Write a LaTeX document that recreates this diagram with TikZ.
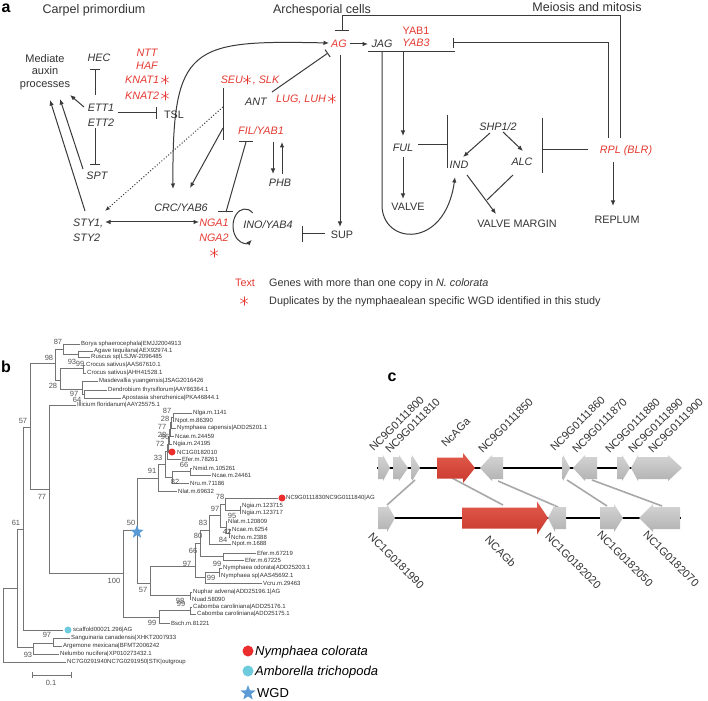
\documentclass[tikz,border=0pt]{standalone}
\usepackage{fontspec}
\setmainfont{Liberation Sans}
\usetikzlibrary{arrows.meta,shapes.geometric}
\definecolor{rd}{HTML}{E53A32}
\definecolor{tx}{HTML}{333333}
\definecolor{ln}{HTML}{3A3A3A}
\definecolor{tr}{HTML}{747474}
\definecolor{bt}{HTML}{555555}
\definecolor{dotred}{HTML}{EB2D2D}
\definecolor{dotcyan}{HTML}{6CCCDD}
\definecolor{starblue}{HTML}{5B9BD5}
\definecolor{gtop}{HTML}{D4D4D4}
\definecolor{gbot}{HTML}{B2B2B2}
\definecolor{rtop}{HTML}{E25A4C}
\definecolor{rbot}{HTML}{C8392D}
\definecolor{syn}{HTML}{A8A8A8}
\newcommand\dstar{\tikz[baseline=-4pt,x=1pt,y=1pt]{\foreach \a in {30,90,...,330}{\draw[line width=0.55pt,draw=rd,line cap=round] (0,0)--(\a:4.3);}}}
\newcommand\Thb[3]{\draw[tree] (#1,#3) -- (#2,#3);}
\newcommand\Tvb[3]{\draw[tree] (#1,#2) -- (#1,#3);}
\newcommand\Ttl[3]{\node[tip] at (#1,#2) {#3};}
\newcommand\Tbs[3]{\node[boot] at (#1,#2) {#3};}
\newcommand\gR[7]{\path[#7] (#1,#4-#5) -- (#2,#4-#5) -- (#2,#4-#6) -- (#3,#4) -- (#2,#4+#6) -- (#2,#4+#5) -- (#1,#4+#5) -- cycle;}
\newcommand\gL[7]{\path[#7] (#1,#4) -- (#2,#4-#6) -- (#2,#4-#5) -- (#3,#4-#5) -- (#3,#4+#5) -- (#2,#4+#5) -- (#2,#4+#6) -- cycle;}
\begin{document}
\begin{tikzpicture}[x=1pt,y=-1pt,
  g/.style={font=\fontsize{10.8}{12}\selectfont\itshape, text=tx, inner sep=0pt, text height=7.8pt, text depth=0pt},
  rg/.style={g, text=rd},
  pl/.style={font=\fontsize{10.8}{12}\selectfont, text=tx, inner sep=0pt, text height=7.8pt, text depth=0pt},
  hd/.style={font=\fontsize{12.5}{14}\selectfont, text=tx, inner sep=0pt, text height=9pt, text depth=0pt},
  plab/.style={font=\fontsize{16}{16}\selectfont\bfseries, text=black, inner sep=0pt},
  lk/.style={draw=ln, line width=1pt},
  ar/.style={lk, -{Latex[length=5.5pt,width=4.5pt]}},
  dar/.style={lk, {Latex[length=5.5pt,width=4.5pt]}-{Latex[length=5.5pt,width=4.5pt]}},
  inh/.style={lk, -{Bar[width=10pt]}},
  tree/.style={draw=tr, line width=0.8pt, line cap=rect},
  tip/.style={font=\fontsize{6}{7}\selectfont, text=tx, anchor=west, inner sep=0pt},
  boot/.style={font=\fontsize{7.5}{8}\selectfont, text=bt, inner sep=0pt},
  lgd/.style={font=\fontsize{13}{14}\selectfont\itshape, text=black, anchor=west, inner sep=0pt, text height=9.3pt, text depth=0pt},
  gl/.style={font=\fontsize{11}{12}\selectfont, text=tx, inner sep=0pt},
  gray gene/.style={top color=gtop, bottom color=gbot},
  red gene/.style={top color=rtop, bottom color=rbot},
  synline/.style={draw=syn, line width=1.6pt}
]
\useasboundingbox (0,0) rectangle (708,700);
\fill[white] (0,0) rectangle (708,700);

%% ================= panel a =================
\node[plab] (pa) at (6,8) {a};
\node[hd] (carp) at (94,9) {Carpel primordium};
\node[hd] (arch) at (322,9) {Archesporial cells};
\node[hd] (meio) at (587,7) {Meiosis and mitosis};
\node[font=\fontsize{11}{12.5}\selectfont, text=tx, align=center, inner sep=0pt] (med) at (45,72) {Mediate\\auxin\\processes};
\node[g] (hec) at (99,58) {HEC};
\node[g] (ett1) at (101,108) {ETT1};
\node[g] (ett2) at (101,123) {ETT2};
\node[pl] (tsl) at (174,115) {TSL};
\node[g] (spt) at (97,176) {SPT};
\node[rg] (ntt) at (147,53) {NTT};
\node[rg] (haf) at (147,66) {HAF};
\node[rg] (knat1) at (147,80) {KNAT1\,\dstar};
\node[rg] (knat2) at (147,96) {KNAT2\,\dstar};
\node[rg] (seu) at (250,80) {SEU\dstar\,, SLK};
\node[g] (ant) at (256,102) {ANT};
\node[rg] (lug) at (306,99) {LUG, LUH\,\dstar};
\node[rg] (fil) at (261,131) {FIL/YAB1};
\node[g] (phb) at (280,183) {PHB};
\node[rg] (ag) at (339,44) {AG};
\node[g] (jag) at (382,44) {JAG};
\node[pl, text=rd] (yab1) at (416,31) {YAB1};
\node[rg] (yab3) at (416,43) {YAB3};
\node[g] (ful) at (403,148) {FUL};
\node[g] (shp) at (498,127) {SHP1/2};
\node[g] (ind) at (459,165) {IND};
\node[g] (alc) at (522,162) {ALC};
\node[rg] (rpl) at (626,150) {RPL (BLR)};
\node[pl] (valve) at (408,207) {VALVE};
\node[pl] (vm) at (517,224) {VALVE MARGIN};
\node[pl] (replum) at (617,220) {REPLUM};
\node[g] (crc) at (181,208) {CRC/YAB6};
\node[g, anchor=west] (sty1) at (73,223) {STY1,};
\node[g, anchor=west] (sty2) at (73,238) {STY2};
\node[rg] (nga1) at (214,223) {NGA1};
\node[rg] (nga2) at (214,238) {NGA2};
\node[inner sep=0pt] (ngastar) at (214,253) {\dstar};
\node[g] (ino) at (268,225) {INO/YAB4};
\node[pl] (sup) at (342,235) {SUP};
\node[pl, text=rd] (lgt) at (245,283) {Text};
\node[pl, anchor=west] (lg1) at (269,283) {Genes with more than one copy in \textit{N. colorata}};
\node[inner sep=0pt] (lgs) at (244,301) {\dstar};
\node[pl, anchor=west] (lg2) at (269,301) {Duplicates by the nymphaealean specific WGD identified in this study};

% connectors panel a
\draw[lk, -{Bar[width=14pt]}] (620,138) -- (620,16) -- (342,16) -- (342,31);
\draw[inh] (608,138) -- (608,43) -- (453,43);
\draw[lk] (368,52) -- (455,52);
\draw[ar] (350,44) -- (368,44);
\draw[ar] (382,52) -- (382,205) .. controls (382,245) and (445,250) .. (455,177);
\draw[ar] (403,52) -- (403,136);
\draw[ar] (403,157) -- (403,199);
\draw[lk] (418,145) -- (447,145);
\draw[lk] (447,115) -- (447,168);
\draw[ar] (490,133) -- (463,157);
\draw[ar] (503,132) -- (523,151);
\draw[lk] (588,150) -- (542,150);
\draw[lk] (542,118) -- (542,173);
\draw[ar] (467,175) -- (496,214);
\draw[lk] (513,175) -- (487,200);
\draw[ar] (613,162) -- (613,206);
\draw[ar] (340,55) -- (340,227);
\draw[dar] (173,189) .. controls (172,45) and (190,40) .. (329,43);
\draw[lk, -{Bar[width=9pt]}] (272,92) -- (328,53);
\draw[lk] (223,88) -- (223,140);
\draw[ar] (223,128) -- (190,188);
\draw[lk, dotted, -{Latex[length=5pt,width=4pt]}] (223,107) -- (105,211);
\draw[lk] (246,142) -- (226,212);
\draw[lk] (239,142) -- (253,142);
\draw[lk] (218,212) -- (233,212);
\draw[ar] (273,142) -- (273,174);
\draw[ar] (282,174) -- (282,142);
\draw[ar] (85,211) -- (50,100);
\draw[ar] (83,169) -- (60,99);
\draw[ar] (84,107) -- (70,95);
\draw[inh] (95,95) -- (95,69);
\draw[inh] (95,128) -- (95,165);
\draw[lk, -{Bar[width=12pt]}] (118,113) -- (157,113);
\draw[dar] (105,222) -- (199,222);
\draw[ar] (245,226) ++(-50:12 and 17) arc[start angle=-50, end angle=-305, x radius=12, y radius=17];
\draw[lk, -{Bar[width=16pt]}] (325,234) -- (302,234);

%% ================= panel b =================
\node[plab] (pb) at (6,367) {b};
% monocots
\Tvb{55}{349}{380} \Thb{30}{55}{363}
\Tvb{63}{344}{354} \Thb{55}{63}{349}
\Thb{63}{80}{344} \Ttl{81}{344}{Borya sphaerocephala|EMJJ2004913}
\Tvb{78}{351}{357} \Thb{63}{78}{354}
\Thb{78}{93}{351} \Ttl{94}{351}{Agave tequilana|AEX92974.1}
\Thb{78}{90}{357} \Ttl{91}{357}{Ruscus sp|LSJW-2096485}
\Tvb{60}{368}{389} \Thb{55}{60}{380}
\Tvb{83}{365}{373} \Thb{60}{83}{368}
\Thb{83}{85}{365} \Ttl{86}{365}{Crocus sativus|AAS67610.1}
\Thb{83}{86}{373} \Ttl{87}{373}{Crocus sativus|AHH41528.1}
\Tvb{82}{381}{394} \Thb{60}{82}{389}
\Thb{82}{98}{381} \Ttl{99}{381}{Masdevallia yuangensis|JSAG2016426}
\Tvb{84}{390}{398} \Thb{82}{84}{394}
\Thb{84}{107}{390} \Ttl{108}{390}{Dendrobium thyrsiflorum|AAY86364.1}
\Thb{84}{121}{398} \Ttl{122}{398}{Apostasia shenzhenica|PKA46844.1}
% backbone
\Tvb{30}{363}{489} \Thb{23}{30}{427}
\Tvb{49}{405}{573} \Thb{30}{49}{489}
\Thb{49}{76}{405} \Ttl{77}{405}{Illicium floridanum|AAY25575.1}
\Tvb{123}{530}{617} \Thb{49}{123}{573}
\Tvb{137}{478}{583} \Thb{123}{137}{530}
% clade 91
\Tvb{158}{464}{491} \Thb{137}{158}{478}
\Thb{158}{177}{491} \Ttl{178}{491}{Nlat.m.69632}
\Tvb{165}{451}{477} \Thb{158}{165}{464}
\Tvb{172}{471}{483} \Thb{165}{172}{477}
\Thb{172}{189}{483} \Ttl{190}{483}{Nru.m.71186}
\Tvb{190}{468}{475} \Thb{172}{190}{471}
\Thb{190}{192}{468} \Ttl{193}{468}{Nmid.m.105261}
\Thb{190}{211}{475} \Ttl{212}{475}{Ncae.m.24461}
\Tvb{167}{444}{459} \Thb{165}{167}{451}
\Thb{167}{181}{459} \Ttl{182}{459}{Efer.m.78261}
\Tvb{168}{436}{452} \Thb{167}{168}{444}
\Thb{168}{169}{452} \fill[dotred] (172,452) circle (3.5); \Ttl{177}{452}{NC1G0182010}
\Tvb{169}{429}{444} \Thb{168}{169}{436}
\Thb{169}{172}{444} \Ttl{173}{444}{Ngia.m.24195}
\Tvb{170}{422}{436} \Thb{169}{170}{429}
\Thb{170}{174}{436} \Ttl{175}{436}{Ncae.m.24459}
\Tvb{171}{417}{428} \Thb{170}{171}{422}
\Thb{171}{176}{428} \Ttl{177}{428}{Nymphaea capensis|ADD25201.1}
\Tvb{173}{413}{421} \Thb{171}{173}{417}
\Thb{173}{192}{413} \Ttl{193}{413}{Nlga.m.1141}
\Thb{173}{174}{421} \Ttl{175}{421}{Npot.m.86390}
% clade 57
\Tvb{150}{566}{595} \Thb{137}{150}{583}
\Tvb{190}{592}{599} \Thb{150}{190}{595}
\Thb{190}{192}{592} \Ttl{193}{592}{Nuphar advena|ADD25196.1|AG}
\Thb{190}{191}{599} \Ttl{192}{599}{Nuad.58090}
\Tvb{195}{543}{577} \Thb{150}{195}{566}
\Tvb{200}{530}{556} \Thb{195}{200}{543}
\Tvb{209}{515}{544} \Thb{200}{209}{530}
\Thb{209}{231}{544} \Ttl{232}{544}{Npot.m.1688}
\Tvb{220}{504}{527} \Thb{209}{220}{515}
\Tvb{225}{498}{510} \Thb{220}{225}{504}
\Thb{225}{278}{498} \fill[dotred] (282,498) circle (3.5); \Ttl{286}{498}{NC9G0111830NC9G0111840|AG}
\Tvb{240}{506}{513} \Thb{225}{240}{510}
\Thb{240}{241}{506} \Ttl{242}{506}{Ngia.m.123715}
\Thb{240}{241}{513} \Ttl{242}{513}{Ngia.m.123717}
\Tvb{226}{521}{533} \Thb{220}{226}{527}
\Thb{226}{227}{521} \Ttl{228}{521}{Nlat.m.120809}
\Tvb{229}{529}{537} \Thb{226}{229}{533}
\Thb{229}{231}{529} \Ttl{232}{529}{Ncae.m.6254}
\Thb{229}{230}{537} \Ttl{231}{537}{Ncho.m.2388}
\Tvb{223}{553}{560} \Thb{200}{223}{556}
\Thb{223}{256}{553} \Ttl{257}{553}{Efer.m.67219}
\Thb{223}{244}{560} \Ttl{245}{560}{Efer.m.67225}
\Tvb{205}{572}{583} \Thb{195}{205}{577}
\Tvb{219}{568}{576} \Thb{205}{219}{572}
\Thb{219}{222}{568} \Ttl{223}{568}{Nymphaea odorata|ADD25203.1}
\Thb{219}{220}{576} \Ttl{221}{576}{Nymphaea sp|AAS45692.1}
\Thb{205}{262}{583} \Ttl{263}{583}{Vcru.m.29463}
% Cabomba
\Tvb{159}{610}{623} \Thb{123}{159}{617}
\Tvb{190}{607}{614} \Thb{159}{190}{610}
\Thb{190}{192}{607} \Ttl{193}{607}{Cabomba caroliniana|ADD25176.1}
\Thb{190}{196}{614} \Ttl{197}{614}{Cabomba caroliniana|ADD25175.1}
\Thb{159}{170}{623} \Ttl{171}{623}{Bsch.m.81221}
% basal
\Tvb{23}{427}{630} \Thb{17}{23}{529}
\Thb{23}{63}{630} \fill[dotcyan] (68,630) circle (3.5); \Ttl{73}{630}{scaffold00021.296|AG}
\Tvb{17}{529}{647} \Thb{3}{17}{588}
\Tvb{33}{643}{654} \Thb{17}{33}{647}
\Tvb{53}{638}{646} \Thb{33}{53}{643}
\Thb{53}{70}{638} \Ttl{71}{638}{Sanguinaria canadensis|XHKT2007933}
\Thb{53}{62}{646} \Ttl{63}{646}{Argemone mexicana|BFMT2006242}
\Thb{33}{59}{654} \Ttl{60}{654}{Nelumbo nucifera|XP010273432.1}
\Tvb{3}{588}{662}
\Thb{3}{66}{662} \Ttl{67}{662}{NC7G0291940NC7G0291950|STK|outgroup}
% WGD star
\node[star, star points=5, star point ratio=2.4, fill=starblue, minimum size=14pt, inner sep=0pt] (wgd) at (137,532) {};
% bootstraps
\Tbs{58}{342}{87} \Tbs{49}{358}{98} \Tbs{72}{362}{93} \Tbs{80}{364}{99}
\Tbs{53}{386}{28} \Tbs{74}{394}{97} \Tbs{77}{400}{64} \Tbs{23}{421}{57}
\Tbs{42}{497}{77} \Tbs{16}{523}{61} \Tbs{47}{635}{97} \Tbs{28}{655}{93}
\Tbs{167}{411}{87} \Tbs{165}{419}{28} \Tbs{162}{427}{77} \Tbs{162}{435}{28}
\Tbs{165}{437}{96} \Tbs{160}{444}{72} \Tbs{158}{458}{33} \Tbs{152}{471}{91}
\Tbs{184}{465}{66} \Tbs{175}{482}{82} \Tbs{131}{523}{50} \Tbs{114}{581}{100}
\Tbs{143}{590}{57} \Tbs{220}{497}{78} \Tbs{215}{509}{97} \Tbs{232}{516}{95}
\Tbs{203}{523}{83} \Tbs{227}{532}{42} \Tbs{223}{540}{84} \Tbs{198}{536}{80}
\Tbs{193}{551}{66} \Tbs{187}{564}{97} \Tbs{217}{564}{99} \Tbs{211}{578}{99}
\Tbs{180}{601}{98} \Tbs{181}{604}{99} \Tbs{152}{623}{99}
% scale bar
\draw[tree] (32,675) -- (71,675);
\draw[tree] (32,672) -- (32,678);
\draw[tree] (71,672) -- (71,678);
\node[boot] (sb) at (51,683) {0.1};
% legend b
\fill[dotred] (248,651) circle (5.5);
\node[lgd] (lgn) at (255,651) {Nymphaea colorata};
\fill[dotcyan] (248,671) circle (5.5);
\node[lgd] (lga) at (255,671) {Amborella trichopoda};
\node[star, star points=5, star point ratio=2.4, fill=starblue, minimum size=16pt, inner sep=0pt] (lgw) at (248,693) {};
\node[lgd, font=\fontsize{13}{14}\selectfont] (lgwt) at (257,693) {WGD};

%% ================= panel c =================
\node[plab] (pc) at (392,377) {c};
% synteny lines
\draw[synline] (415,480) -- (387,505);
\draw[synline] (452,478) -- (503,505);
\draw[synline] (498,481) -- (558,507);
\draw[synline] (567,480) -- (607,506);
\draw[synline] (592,480) -- (662,506);
% chromosome lines
\draw[line width=1.2pt, black] (377,468) -- (681,468);
\draw[line width=1.2pt, black] (378,518) -- (681,518);
% top genes
\gR{378}{383}{390}{468}{11}{13}{gray gene}
\gR{393}{399}{408}{468}{11}{13}{gray gene}
\gR{411}{412}{420}{468}{11}{13}{gray gene}
\gR{437}{463}{475}{468}{10.5}{15}{red gene}
\gL{480}{492}{503}{468}{11}{13}{gray gene}
\gR{562}{563}{570}{468}{11}{13}{gray gene}
\gL{573}{585}{597}{468}{11}{13}{gray gene}
\gR{617}{622}{630}{468}{11}{13}{gray gene}
\gL{631}{638}{643}{468}{11}{13}{gray gene}
\gR{643}{668}{682}{468}{11}{13}{gray gene}
% bottom genes
\gR{378}{387}{395}{518}{11}{14}{gray gene}
\gR{462}{537}{548}{518}{10.5}{16.5}{red gene}
\gL{548}{555}{566}{518}{11}{14}{gray gene}
\gR{600}{614}{623}{518}{11}{14}{gray gene}
\gL{639}{653}{680}{518}{11}{14}{gray gene}
% top labels
\node[gl, rotate=45, anchor=south west] (t1) at (374,452) {NC9G0111800};
\node[gl, rotate=45, anchor=south west] (t2) at (390,454) {NC9G0111810};
\node[gl, rotate=45, anchor=south west] (t3) at (446,448) {NcAGa};
\node[gl, rotate=45, anchor=south west] (t4) at (483,454) {NC9G0111850};
\node[gl, rotate=45, anchor=south west] (t5) at (555,452) {NC9G0111860};
\node[gl, rotate=45, anchor=south west] (t6) at (577,454) {NC9G0111870};
\node[gl, rotate=45, anchor=south west] (t7) at (610,454) {NC9G0111880};
\node[gl, rotate=45, anchor=south west] (t8) at (633,454) {NC9G0111890};
\node[gl, rotate=45, anchor=south west] (t9) at (653,454) {NC9G0111900};
% bottom labels
\node[gl, rotate=-45, anchor=north west] (u1) at (373,532) {NC1G0181990};
\node[gl, rotate=-45, anchor=north west] (u2) at (490,535) {NCAGb};
\node[gl, rotate=-45, anchor=north west] (u3) at (550,532) {NC1G0182020};
\node[gl, rotate=-45, anchor=north west] (u4) at (602,530) {NC1G0182050};
\node[gl, rotate=-45, anchor=north west] (u5) at (648,530) {NC1G0182070};
\end{tikzpicture}
\end{document}
